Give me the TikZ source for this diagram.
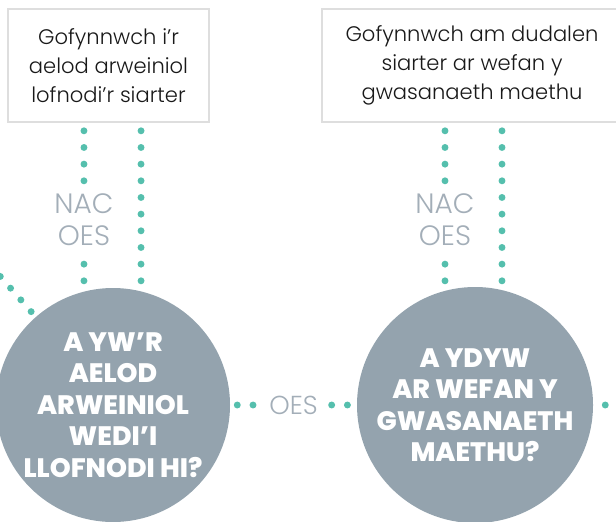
\documentclass[tikz,border=0pt]{standalone}
\usepackage{fontspec}
\setmainfont{Poppins}
\newfontfamily\LightFont{Poppins Light}
\newfontfamily\HeavyFont{Poppins ExtraBold}
\usetikzlibrary{backgrounds}
\definecolor{DotTeal}{HTML}{55BFAD}
\definecolor{AskGray}{HTML}{94A3AE}
\definecolor{WordGray}{HTML}{A3AEB8}
\definecolor{BoxLine}{HTML}{DEDEDE}
\tikzset{
    AskBox/.style={draw=BoxLine, line width=1.2pt, fill=white, align=center,
        text=black!90, font=\LightFont\fontsize{15.8}{22}\selectfont,
        minimum height=84.75pt, inner sep=0pt},
    AskDisc/.style={circle, fill=AskGray, text=white, align=center, inner sep=0pt,
        font=\HeavyFont\fontsize{20}{23.6}\selectfont},
    DotLine/.style={DotTeal, line width=5.2pt, line cap=round,
        dash pattern=on 0pt off 12.5pt, shorten <=6pt},
    NoLabel/.style={fill=white, text=WordGray, align=center, inner xsep=3pt, inner ysep=4.5pt,
        font=\LightFont\fontsize{21}{24}\selectfont},
}
\newcommand\AnswerLines[4]{%
    % #1 box, #2 disc, #3 shift of the NAC OES line, #4 shift of the plain line
    \draw[DotLine] ([xshift=#3]#1.south) -- ([xshift=#3]#1.south |- #2.center)
        node[NoLabel, pos=0.345] (#1No) {NAC\\OES};
    \draw[DotLine] ([xshift=#4]#1.south) -- ([xshift=#4]#1.south |- #2.center);
}

\begin{document}
\begin{tikzpicture}[x=0.75pt, y=-0.75pt]
    \useasboundingbox (0,0) rectangle (616,521);
    \node[AskBox, minimum width=150.75pt] (AskLeader) at (108.5,65.5)
        {Gofynnwch i’r\\aelod arweiniol\\lofnodi’r siarter};
    \node[AskBox, minimum width=225pt] (AskSite) at (472,65.5)
        {Gofynnwch am dudalen\\siarter ar wefan y\\gwasanaeth maethu};
    \node[AskDisc, minimum size=175.5pt] (IsSigned) at (113,405)
        {A YW’R\\AELOD\\ARWEINIOL\\WEDI’I\\LLOFNODI HI?};
    \node[AskDisc, minimum size=177pt] (IsOnSite) at (475,405)
        {A YDYW\\AR WEFAN Y\\GWASANAETH\\MAETHU?};
    \coordinate (LeftEnd) at (-10,264.7);
    \coordinate (RightEnd) at (650,405);
    \begin{scope}[on background layer]
        \AnswerLines{AskLeader}{IsSigned}{-18.4pt}{24.4pt}
        \AnswerLines{AskSite}{IsOnSite}{-20.25pt}{22.5pt}
        % OES
        \draw[DotLine, dash pattern=on 0pt off 11.8pt, shorten <=5.25pt]
            (IsSigned.east) -- (IsOnSite.west)
            node[NoLabel, midway, inner ysep=3pt, font=\LightFont\fontsize{19.5}{24}\selectfont] (YesMid) {OES};
        \draw[DotLine, shorten <=9pt] (IsOnSite.east) -- (RightEnd);
        \draw[DotLine, dash pattern=on 0pt off 11.7pt, shorten <=0pt] (LeftEnd) -- (IsSigned.center);
    \end{scope}
\end{tikzpicture}
\end{document}
